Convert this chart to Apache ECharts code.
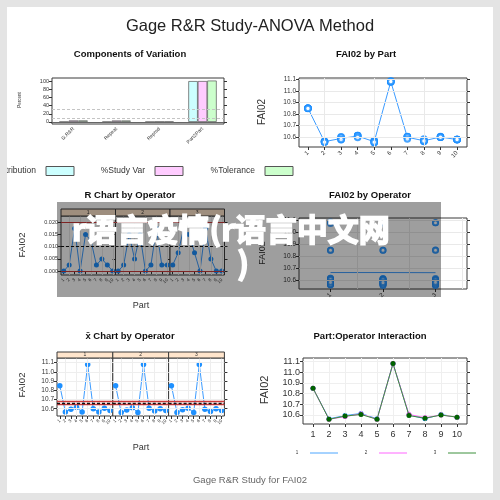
<!DOCTYPE html>
<html><head><meta charset="utf-8">
<script src="https://cdn.jsdelivr.net/npm/echarts@6/dist/echarts.min.js"></script>
<style>html,body{margin:0;padding:0;background:#fff}#c{width:500px;height:500px}</style>
</head><body><div id="c"></div>
<script>
// ---------- data ----------
const parts = ['1','2','3','4','5','6','7','8','9','10'];
const operators = ['1','2','3'];
const components = ['G.R&R','Repeat','Reprod','Part2Part'];
const pctContribution = [0.2, 0.2, 0.0, 99.8];
const pctStudyVar = [3.8, 3.6, 0.4, 99.9];
const pctTolerance = [3.8, 3.6, 0.4, 101.0];
const refLines = [10, 30];

// individual measurements (2 trials per operator)
const op1TrialA = [10.850, 10.566, 10.604, 10.615, 10.573, 11.086, 10.601, 10.568, 10.606, 10.580];
const op1TrialB = [10.850, 10.564, 10.586, 10.615, 10.558, 11.074, 10.599, 10.563, 10.604, 10.580];
const op2TrialA = [10.850, 10.561, 10.593, 10.612, 10.568, 11.080, 10.606, 10.584, 10.601, 10.581];
const op2TrialB = [10.850, 10.559, 10.578, 10.607, 10.553, 11.080, 10.604, 10.566, 10.599, 10.579];
const op3TrialA = [10.851, 10.564, 10.599, 10.612, 10.564, 11.080, 10.604, 10.572, 10.600, 10.580];
const op3TrialB = [10.849, 10.556, 10.581, 10.597, 10.556, 11.080, 10.586, 10.568, 10.600, 10.580];
const partMeans = [10.850, 10.562, 10.590, 10.610, 10.562, 11.080, 10.600, 10.570, 10.602, 10.580];
const operatorMeans = [10.662, 10.662, 10.661];

// R chart values
const rangeOp1 = [0, 0.0025, 0.0175, 0, 0.015, 0.0125, 0.0025, 0.005, 0.0025, 0];
const rangeOp2 = [0, 0.0025, 0.015, 0.005, 0.015, 0, 0.0025, 0.0175, 0.0025, 0.0025];
const rangeOp3 = [0.0025, 0.0075, 0.0175, 0.015, 0.0075, 0, 0.0175, 0.005, 0, 0];
const rangeLimits = {ucl: 0.0177, cl: 0.0069, lcl: 0};

// xbar chart values
const xbarOp1 = [10.850, 10.565, 10.595, 10.615, 10.565, 11.080, 10.600, 10.565, 10.605, 10.580];
const xbarOp2 = [10.850, 10.560, 10.585, 10.610, 10.560, 11.080, 10.605, 10.575, 10.600, 10.580];
const xbarOp3 = [10.850, 10.560, 10.590, 10.605, 10.560, 11.080, 10.595, 10.570, 10.600, 10.580];
const xbarLimits = {ucl: 10.675, cl: 10.662, lcl: 10.649};

// tick labels
const pctTicks = [0, 20, 40, 60, 80, 100];
const faiTicks = [10.6, 10.7, 10.8, 10.9, 11.0, 11.1];
const rTicks = [0, 0.005, 0.010, 0.015, 0.020];

// ---------- helpers ----------
const FONT = '"Liberation Sans", Arial, sans-serif';
const AX = '#333';
const GRIDC = '#e9e9e9';
const BLUE = '#1e90ff';
const BLUEL = '#3d9cff';
const RED = '#cc3b3b';
const grids = [], xAxes = [], yAxes = [], series = [];

function addGrid(l, t, w, h) {
  grids.push({left: l, top: t, width: w, height: h, show: true, borderColor: '#3a3a3a', borderWidth: 1, backgroundColor: '#fff'});
  return grids.length - 1;
}
function valY(gi, min, max, ticks, fmt, fs, showLabel, pos) {
  yAxes.push({type: 'value', gridIndex: gi, position: pos || 'left', min: min, max: max,
    axisLine: {show: false}, splitLine: {show: false},
    axisTick: {show: true, length: 3, customValues: ticks, lineStyle: {color: AX}},
    axisLabel: {show: showLabel, customValues: ticks, formatter: fmt, fontSize: fs, color: AX, margin: 3, fontFamily: FONT}});
  return yAxes.length - 1;
}
function valX(gi, min, max, ticks, labels, fs, rot, margin) {
  xAxes.push({type: 'value', gridIndex: gi, min: min, max: max,
    axisLine: {show: false}, splitLine: {show: false},
    axisTick: {show: true, length: 3, customValues: ticks, lineStyle: {color: AX}},
    axisLabel: {show: true, customValues: ticks, formatter: v => labels[Math.round(v) - 1], fontSize: fs, rotate: rot, color: AX, margin: margin, fontFamily: FONT}});
  return xAxes.length - 1;
}
function catX(gi, data, fs, rot, showTick, margin) {
  xAxes.push({type: 'category', gridIndex: gi, data: data, boundaryGap: true,
    axisLine: {show: false}, splitLine: {show: false},
    axisTick: {show: showTick, alignWithLabel: true, length: 3, lineStyle: {color: AX}},
    axisLabel: {show: true, interval: 0, fontSize: fs, rotate: rot, color: AX, margin: margin, fontFamily: FONT}});
  return xAxes.length - 1;
}
function gridLines(xi, yi, xs, ys, color) {
  const d = [];
  xs.forEach(v => d.push({xAxis: v}));
  ys.forEach(v => d.push({yAxis: v}));
  series.push({type: 'line', xAxisIndex: xi, yAxisIndex: yi, data: [], z: 1, silent: true,
    markLine: {silent: true, symbol: 'none', label: {show: false}, animation: false,
      lineStyle: {color: color || GRIDC, width: 1, type: 'solid'}, data: d}});
}
const f1 = v => v.toFixed(1);
const f3 = v => v.toFixed(3);

// ---------- panel 1: components of variation ----------
const g0 = addGrid(52, 78, 172, 46);
const x0 = catX(g0, components, 5, 45, false, 4);
const y0 = valY(g0, -5, 107.3, pctTicks, v => String(v), 5.5, true);
valY(g0, -5, 107.3, pctTicks, v => '', 5, false, 'right');
const barStyle = c => ({color: c, borderColor: '#555', borderWidth: 0.7});
series.push({type: 'bar', name: '%Contribution', xAxisIndex: x0, yAxisIndex: y0, data: pctContribution,
  itemStyle: barStyle('#ccffff'), barGap: '0%', barCategoryGap: '34%', z: 3,
  markLine: {silent: true, symbol: 'none', label: {show: false}, animation: false,
    data: refLines.map(v => ({yAxis: v, lineStyle: {color: '#c4c4c4', type: [3, 2], width: 1}}))
      .concat([{yAxis: 0, lineStyle: {color: '#666', type: 'solid', width: 1}}])}});
series.push({type: 'bar', name: '%Study Var', xAxisIndex: x0, yAxisIndex: y0, data: pctStudyVar,
  itemStyle: barStyle('#ffccff'), barGap: '0%', barCategoryGap: '34%', z: 3});
series.push({type: 'bar', name: '%Tolerance', xAxisIndex: x0, yAxisIndex: y0, data: pctTolerance,
  itemStyle: barStyle('#ccffcc'), barGap: '0%', barCategoryGap: '34%', z: 3});

// ---------- panel 2: FAI02 by Part ----------
const g1 = addGrid(299, 78, 168, 69);
const partIdx = parts.map((p, i) => i + 1);
const x1 = valX(g1, 0.46, 10.6, partIdx, parts, 6, 45, 5);
const y1 = valY(g1, 10.516, 11.111, faiTicks, f1, 6.5, true);
valY(g1, 10.516, 11.111, faiTicks, v => '', 6, false, 'right');
gridLines(x1, y1, [2, 5, 8], faiTicks);
const allTrials = [op1TrialA, op1TrialB, op2TrialA, op2TrialB, op3TrialA, op3TrialB];
const byPartPts = [];
allTrials.forEach(arr => arr.forEach((v, i) => byPartPts.push([partIdx[i], v])));
series.push({type: 'line', xAxisIndex: x1, yAxisIndex: y1, data: partMeans.map((v, i) => [partIdx[i], v]),
  symbol: 'none', lineStyle: {color: BLUEL, width: 1}, z: 3});
series.push({type: 'scatter', xAxisIndex: x1, yAxisIndex: y1, data: byPartPts,
  symbol: 'emptyCircle', symbolSize: 5.5, itemStyle: {color: BLUE, borderColor: BLUE, borderWidth: 1}, z: 4});

// ---------- panel 3: R chart by operator ----------
const rLeft = [61, 115.5, 170], rW = 54.5, rTop = 216, rH = 59;
const rData = [rangeOp1, rangeOp2, rangeOp3];
rLeft.forEach((l, k) => {
  const g = addGrid(l, rTop, rW, rH);
  const xi = catX(g, parts, 4.5, 45, true, 4);
  const yi = valY(g, -0.0016, 0.0226, rTicks, f3, 5.5, k === 0);
  if (k === 2) valY(g, -0.0016, 0.0226, rTicks, v => '', 5, false, 'right');
  gridLines(xi, yi, [1, 3, 5, 7, 9], rTicks);
  series.push({type: 'line', xAxisIndex: xi, yAxisIndex: yi, data: rData[k], z: 4,
    symbol: 'circle', symbolSize: 5, itemStyle: {color: BLUE}, lineStyle: {color: BLUEL, width: 1},
    markLine: {silent: true, symbol: 'none', label: {show: false}, animation: false,
      data: [{yAxis: rangeLimits.ucl, lineStyle: {color: RED, width: 1.2, type: 'solid'}},
             {yAxis: rangeLimits.lcl, lineStyle: {color: RED, width: 1.2, type: 'solid'}},
             {yAxis: rangeLimits.cl, lineStyle: {color: '#111', width: 1.2, type: [3, 2]}}]}});
});

// ---------- panel 4: FAI02 by Operator ----------
const g5 = addGrid(299, 218, 168, 71);
const opIdx = operators.map((o, i) => i + 1);
const x5 = valX(g5, 0.4, 3.6, opIdx, operators, 6, 45, 5);
const y5 = valY(g5, 10.524, 11.12, faiTicks, f1, 6.5, true);
valY(g5, 10.524, 11.12, faiTicks, v => '', 6, false, 'right');
gridLines(x5, y5, [1.5, 2.5, 3.5], faiTicks);
const opTrials = [[op1TrialA, op1TrialB], [op2TrialA, op2TrialB], [op3TrialA, op3TrialB]];
const byOpPts = [];
opTrials.forEach((pair, k) => pair.forEach(arr => arr.forEach(v => byOpPts.push([opIdx[k], v]))));
series.push({type: 'line', xAxisIndex: x5, yAxisIndex: y5, data: operatorMeans.map((v, i) => [opIdx[i], v]),
  symbol: 'none', lineStyle: {color: BLUEL, width: 1}, z: 3});
series.push({type: 'scatter', xAxisIndex: x5, yAxisIndex: y5, data: byOpPts,
  symbol: 'emptyCircle', symbolSize: 5, itemStyle: {color: BLUE, borderColor: BLUE, borderWidth: 1}, z: 4});

// ---------- panel 5: xbar chart by operator ----------
const xbLeft = [57, 112.8, 168.6], xbW = 55.8, xbTop = 358, xbH = 58;
const xbData = [xbarOp1, xbarOp2, xbarOp3];
xbLeft.forEach((l, k) => {
  const g = addGrid(l, xbTop, xbW, xbH);
  const xi = catX(g, parts, 4.5, 45, true, 4);
  const yi = valY(g, 10.521, 11.15, faiTicks, f1, 6.5, k === 0);
  if (k === 2) valY(g, 10.521, 11.15, faiTicks, v => '', 5, false, 'right');
  gridLines(xi, yi, [1, 3, 5, 7, 9], faiTicks, '#eeeeee');
  series.push({type: 'line', xAxisIndex: xi, yAxisIndex: yi, data: xbData[k], z: 4,
    symbol: 'circle', symbolSize: 5.5, itemStyle: {color: BLUE}, lineStyle: {color: BLUEL, width: 1},
    markLine: {silent: true, symbol: 'none', label: {show: false}, animation: false,
      data: [{yAxis: xbarLimits.ucl, lineStyle: {color: RED, width: 1.3, type: 'solid'}},
             {yAxis: xbarLimits.lcl, lineStyle: {color: RED, width: 1.3, type: 'solid'}},
             {yAxis: xbarLimits.cl, lineStyle: {color: '#111', width: 1.3, type: [3, 2]}}]}});
});

// ---------- panel 6: interaction ----------
const g9 = addGrid(303, 358, 164, 66);
const x9 = valX(g9, 0.375, 10.625, partIdx, parts, 9, 0, 6);
const y9 = valY(g9, 10.516, 11.132, faiTicks, f1, 9, true);
valY(g9, 10.516, 11.132, faiTicks, v => '', 6, false, 'right');
gridLines(x9, y9, partIdx, faiTicks, '#efefef');
const interColors = [{line: '#4da6ff', pt: '#1e90ff'}, {line: '#ff66ff', pt: '#e040e0'}, {line: '#3c903c', pt: '#006400'}];
xbData.forEach((arr, k) => {
  series.push({type: 'line', name: operators[k], xAxisIndex: x9, yAxisIndex: y9, z: 4 + k,
    data: arr.map((v, i) => [partIdx[i], v]), symbol: 'circle', symbolSize: 5,
    itemStyle: {color: interColors[k].pt}, lineStyle: {color: interColors[k].line, width: 1}});
});

// ---------- decorations ----------
const txt = (x, y, s, o, z) => ({type: 'text', x: x, y: y, z: z || 50,
  style: Object.assign({text: s, fill: '#222', font: '9px ' + FONT, textAlign: 'center', textVerticalAlign: 'middle'}, o || {})});
const boldT = (x, y, s) => txt(x, y, s, {font: 'bold 9.5px ' + FONT, fill: '#111'});
const rot = (x, y, s, fs) => ({type: 'text', x: x, y: y, rotation: Math.PI / 2, z: 50,
  style: {text: s, fill: '#333', font: fs + 'px ' + FONT, textAlign: 'center', textVerticalAlign: 'middle'}});
const strip = (x, y, w, h, s) => [
  {type: 'rect', z: 40, shape: {x: x, y: y, width: w, height: h}, style: {fill: '#ffe5cc', stroke: '#3a3a3a', lineWidth: 1}},
  txt(x + w / 2, y + h / 2, s, {font: '5px ' + FONT, fill: '#333'}, 41)];
const els = [];
els.push({type: 'rect', z: 60, shape: {x: 3.5, y: 3.5, width: 493, height: 493}, style: {fill: 'none', stroke: '#e4e4e4', lineWidth: 7}});
els.push(txt(250, 26, 'Gage R&R Study-ANOVA Method', {font: '16.5px ' + FONT, fill: '#222'}));
els.push(boldT(130, 54, 'Components of Variation'));
els.push(boldT(366, 54, 'FAI02 by Part'));
els.push(boldT(130, 195, 'R Chart by Operator'));
els.push(boldT(370, 195, 'FAI02 by Operator'));
els.push(boldT(130, 336, 'x̄ Chart by Operator'));
els.push(boldT(370, 336, 'Part:Operator Interaction'));
els.push(txt(250, 480, 'Gage R&R Study for FAI02', {font: '9.5px ' + FONT, fill: '#666'}));
els.push(rot(20, 100, 'Percent', 4.5));
els.push(rot(262, 112, 'FAI02', 10));
els.push(rot(22, 245, 'FAI02', 9.5));
els.push(rot(263, 253, 'FAI02', 9));
els.push(rot(22, 385, 'FAI02', 9.5));
els.push(rot(265, 390, 'FAI02', 11));
els.push(txt(141, 306, 'Part', {font: '9px ' + FONT, fill: '#333'}));
els.push(txt(141, 448, 'Part', {font: '9px ' + FONT, fill: '#333'}));
// components legend
const legItems = [['%Contribution', 36, 46, '#ccffff'], ['%Study Var', 145, 155, '#ffccff'], ['%Tolerance', 255, 265, '#ccffcc']];
legItems.forEach(([s, tx, rx, c]) => {
  els.push(txt(tx, 171, s, {font: '8.5px ' + FONT, fill: '#333', textAlign: 'right'}));
  els.push({type: 'rect', z: 50, shape: {x: rx, y: 166.5, width: 28, height: 9}, style: {fill: c, stroke: '#555', lineWidth: 1}});
});
// interaction legend
const iLeg = [[297, 310], [366, 379], [435, 448]];
iLeg.forEach(([tx, lx], k) => {
  els.push(txt(tx, 453, operators[k], {font: '4.5px ' + FONT, fill: '#333'}));
  els.push({type: 'line', z: 50, shape: {x1: lx, y1: 453, x2: lx + 28, y2: 453}, style: {stroke: interColors[k].line, lineWidth: 1}});
});
// strips
rLeft.forEach((l, k) => strip(l, 209, rW, 7, operators[k]).forEach(e => els.push(e)));
xbLeft.forEach((l, k) => strip(l, 352, xbW, 6, operators[k]).forEach(e => els.push(e)));
// watermark
const WM = 'bold 31px "Noto Sans CJK SC", sans-serif';
els.push({type: 'rect', z: 90, shape: {x: 57, y: 202, width: 384, height: 95}, style: {fill: 'rgba(0,0,0,0.38)'}});
els.push(txt(72, 229, 'r语言疫情(r语言中文网', {font: WM, fill: '#fff', stroke: '#fff', lineWidth: 1.6, textAlign: 'left'}, 95));
els.push(txt(243, 263, ')', {font: WM, fill: '#fff', stroke: '#fff', lineWidth: 1.6}, 95));

const option = {
  animation: false,
  backgroundColor: '#fff',
  textStyle: {fontFamily: FONT},
  grid: grids, xAxis: xAxes, yAxis: yAxes, series: series,
  graphic: {elements: els}
};
const chart = echarts.init(document.getElementById('c'));
chart.setOption(option);
</script></body></html>
